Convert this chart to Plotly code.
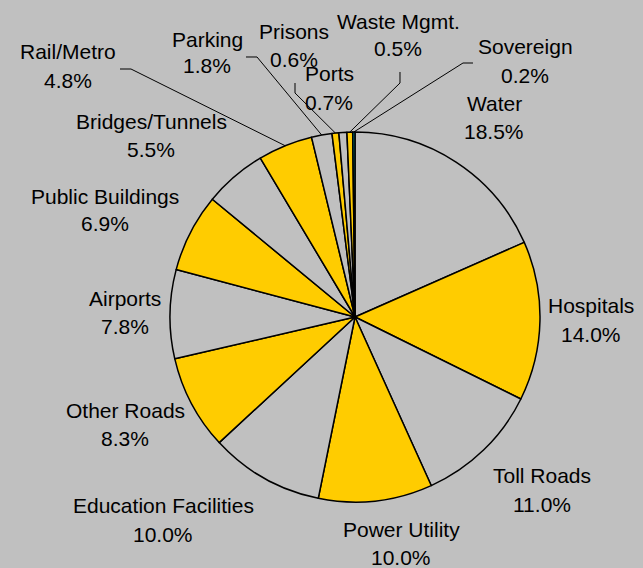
import math
import plotly.graph_objects as go

# Sector breakdown, clockwise from 12 o'clock
sectors = ["Water", "Hospitals", "Toll Roads", "Power Utility", "Education Facilities",
           "Other Roads", "Airports", "Public Buildings", "Bridges/Tunnels", "Rail/Metro",
           "Parking", "Prisons", "Ports", "Waste Mgmt.", "Sovereign"]
shares = [18.5, 14.0, 11.0, 10.0, 10.0, 8.3, 7.8, 6.9, 5.5, 4.8, 1.8, 0.6, 0.7, 0.5, 0.2]

GOLD = "#ffcc00"
GREY = "#c0c0c0"
TEAL = "#008080"
slice_colors = [GREY if i % 2 == 0 else GOLD for i in range(len(shares))]
slice_colors[-1] = TEAL

W, H = 643, 568
CX, CY, R = 355, 317, 185  # pie centre and radius in pixels

# label placement (pixel centres of the name line and the percent line)
label_pos = {
    "Water": (494, 104, 131.5),
    "Hospitals": (591, 305, 334),
    "Toll Roads": (542, 475, 504.5),
    "Power Utility": (401, 529.5, 557.5),
    "Education Facilities": (163, 505.5, 534.5),
    "Other Roads": (125, 410, 438.5),
    "Airports": (125, 298, 326),
    "Public Buildings": (105, 196, 224),
    "Bridges/Tunnels": (151, 121, 149.5),
    "Rail/Metro": (68, 52, 80.5),
    "Parking": (207, 39.5, 66),
    "Prisons": (294, 31.5, 59),
    "Ports": (329, 74, 102.5),
    "Waste Mgmt.": (398, 21, 49),
    "Sovereign": (525, 46, 75),
}

# leader lines: elbow points beside the label, then on to the slice
leaders = {
    "Rail/Metro": [(120, 69), (131, 69)],
    "Parking": [(246, 57), (257, 57)],
    "Prisons": [(295, 83), (295, 93)],
    "Waste Mgmt.": [(400, 72), (400, 83)],
    "Sovereign": [(473, 63), (463, 63)],
}


def px(x):
    return x / W


def py(y):
    return 1 - y / H


fig = go.Figure(go.Pie(
    labels=sectors,
    values=shares,
    sort=False,
    direction="clockwise",
    rotation=0,
    textinfo="none",
    hoverinfo="label+percent",
    marker=dict(colors=slice_colors, line=dict(color="#000000", width=1.5)),
    domain=dict(x=[px(CX - R), px(CX + R)], y=[py(CY + R), py(CY - R)]),
))

font = dict(family="Liberation Sans, Arial, sans-serif", size=21, color="#000000")
annotations = []
for name, val in zip(sectors, shares):
    x, y1, y2 = label_pos[name]
    for text, y in ((name, y1), (f"{val:.1f}%", y2)):
        annotations.append(dict(
            x=px(x), y=py(y), xref="paper", yref="paper", text=text,
            showarrow=False, xanchor="center", yanchor="middle", font=font,
        ))

total = sum(shares)
shapes = []
cum = 0.0
for name, val in zip(sectors, shares):
    mid = (cum + val / 2) / total * 2 * math.pi
    cum += val
    if name not in leaders:
        continue
    pts = leaders[name] + [(CX + R * math.sin(mid), CY - R * math.cos(mid))]
    path = "M " + " L ".join(f"{px(a):.5f},{py(b):.5f}" for a, b in pts)
    shapes.append(dict(type="path", path=path, xref="paper", yref="paper",
                       line=dict(color="#000000", width=1)))

fig.update_layout(
    width=W, height=H,
    margin=dict(l=0, r=0, t=0, b=0),
    paper_bgcolor=GREY, plot_bgcolor=GREY,
    showlegend=False,
    annotations=annotations,
    shapes=shapes,
)

fig.write_html("out.html")
